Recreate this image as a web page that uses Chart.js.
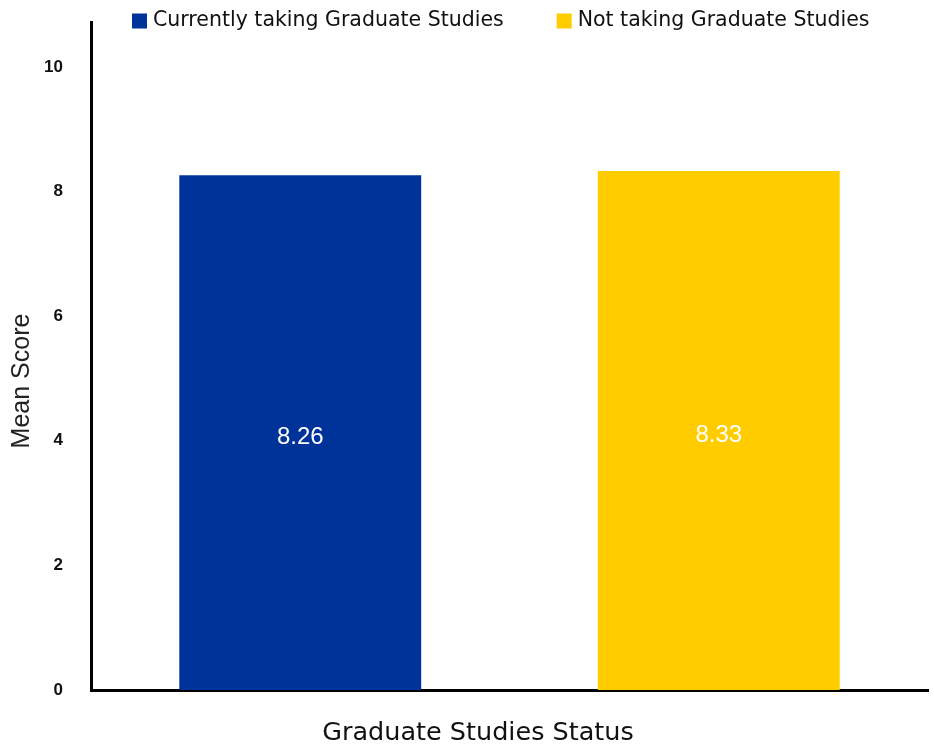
<!DOCTYPE html>
<html lang="en">
<head>
<meta charset="UTF-8">
<title>Mean Score by Graduate Studies Status</title>
<script src="https://cdn.jsdelivr.net/npm/chart.js@4.4.1/dist/chart.umd.min.js"></script>
<style>
  html, body { margin: 0; padding: 0; background: #fff; }
  #wrap { width: 934px; height: 746px; }
</style>
</head>
<body>
<div id="wrap"><canvas id="scoreChart"></canvas></div>
<script>
var categories = ['Currently taking Graduate Studies', 'Not taking Graduate Studies'];
var meanScores = [8.26, 8.33];
var barColors = ['#003399', '#FFCC00'];
var yTicks = [0, 2, 4, 6, 8, 10];
var yTitle = 'Mean Score';
var xTitle = 'Graduate Studies Status';

// one dataset per group so each gets its own legend entry
var datasets = categories.map(function (name, i) {
    return {
        label: name,
        data: categories.map(function (c, j) { return j === i ? meanScores[i] : null; }),
        backgroundColor: barColors[i],
        borderWidth: 0
    };
});

// value printed in the middle of each bar
var barLabels = {
    id: 'barLabels',
    afterDatasetsDraw: function (chart) {
        var ctx = chart.ctx;
        ctx.save();
        ctx.font = '24px "Liberation Sans", Arial, sans-serif';
        ctx.fillStyle = '#fff';
        ctx.textAlign = 'center';
        ctx.textBaseline = 'middle';
        chart.data.datasets.forEach(function (ds, i) {
            chart.getDatasetMeta(i).data.forEach(function (bar, j) {
                var v = ds.data[j];
                if (v == null) return;
                ctx.fillText(v.toFixed(2), bar.x, (bar.y + bar.base) / 2 + 5);
            });
        });
        ctx.restore();
    }
};

// legend row on top, axis captions on the left and bottom
var legendAndTitles = {
    id: 'legendAndTitles',
    afterDraw: function (chart) {
        var ctx = chart.ctx;
        ctx.save();
        ctx.font = '20.5px "DejaVu Sans", sans-serif';
        ctx.textBaseline = 'middle';
        ctx.textAlign = 'left';
        var x = 132, y = 21;
        chart.data.datasets.forEach(function (ds) {
            ctx.fillStyle = ds.backgroundColor;
            ctx.fillRect(x, y - 7.5, 15, 15);
            ctx.fillStyle = '#111';
            ctx.fillText(ds.label, x + 21, y);
            x += 21 + ctx.measureText(ds.label).width + 53;
        });

        ctx.font = '25.5px "DejaVu Sans", sans-serif';
        ctx.textAlign = 'center';
        ctx.fillText(xTitle, 478, 733);

        ctx.translate(22, 381);
        ctx.rotate(-Math.PI / 2);
        ctx.fillStyle = '#222';
        ctx.font = '25px "Liberation Sans", Arial, sans-serif';
        ctx.fillText(yTitle, 0, 0);
        ctx.restore();
    }
};

var ctx = document.getElementById('scoreChart').getContext('2d');
var chart = new Chart(ctx, {
    type: 'bar',
    data: {
        labels: categories,
        datasets: datasets
    },
    options: {
        responsive: true,
        maintainAspectRatio: false,
        animation: false,
        layout: { padding: { top: 22, bottom: 56, left: 0, right: 6 } },
        datasets: {
            bar: { skipNull: true, categoryPercentage: 1, barPercentage: 0.578 }
        },
        plugins: {
            legend: { display: false },
            tooltip: { enabled: false }
        },
        scales: {
            x: {
                grid: { display: false, drawTicks: false },
                border: { color: '#000', width: 3 },
                ticks: { display: false }
            },
            y: {
                min: 0,
                max: 10.72,
                afterBuildTicks: function (scale) {
                    scale.ticks = yTicks.map(function (v) { return { value: v }; });
                },
                afterFit: function (scale) {
                    scale.width = 91;
                    scale.paddingTop = 0;
                    scale.paddingBottom = 0;
                },
                grid: { display: false, drawTicks: false },
                border: { color: '#000', width: 3 },
                ticks: {
                    padding: 28,
                    color: '#111',
                    font: { family: '"Liberation Sans", Arial, sans-serif', size: 17, weight: 'bold' }
                }
            }
        }
    },
    plugins: [barLabels, legendAndTitles]
});
</script>
</body>
</html>
